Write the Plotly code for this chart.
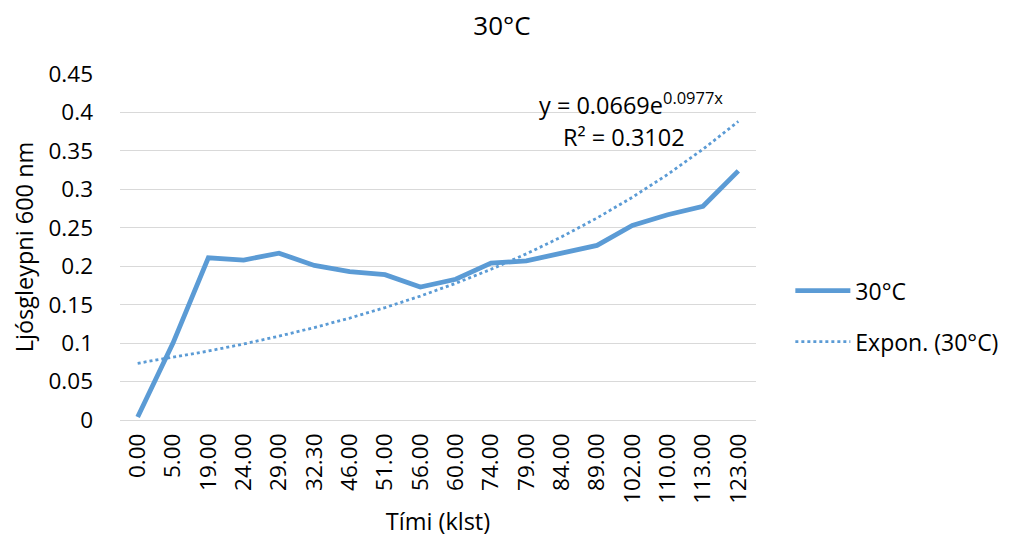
import plotly.graph_objects as go
import numpy as np

categories = ["0.00", "5.00", "19.00", "24.00", "29.00", "32.30", "46.00", "51.00", "56.00",
              "60.00", "74.00", "79.00", "84.00", "89.00", "102.00", "110.00", "113.00", "123.00"]
absorbance = [0.004, 0.100, 0.211, 0.208, 0.217, 0.201, 0.193, 0.189, 0.173,
              0.183, 0.204, 0.207, 0.217, 0.227, 0.253, 0.267, 0.278, 0.324]
# Excel exponential trendline coefficients (shown on chart): y = a * exp(b * x), x = 1..N
trend_a = 0.0669
trend_b = 0.0977

idx = np.arange(1, len(categories) + 1)
trend = trend_a * np.exp(trend_b * idx)

color = "#5B9BD5"
font = "Open Sans"

fig = go.Figure()
fig.add_trace(go.Scatter(x=categories, y=absorbance, mode="lines", name="30°C",
                         legendgroup="a",
                         line=dict(color=color, width=4.8)))
fig.add_trace(go.Scatter(x=categories, y=trend, mode="lines", name="Expon. (30°C)",
                         legendgroup="b",
                         line=dict(color=color, width=2.8, dash="dot")))

fig.update_layout(
    width=1008, height=547,
    margin=dict(l=112, r=257, t=66, b=135),
    paper_bgcolor="white", plot_bgcolor="white",
    font=dict(family=font, size=22.5, color="#000000"),
    title=dict(text="30°C", x=0.490, xanchor="center", y=0.968, yanchor="middle",
               font=dict(size=26, family=font)),
    showlegend=True,
    legend=dict(x=1.054, y=0.30, xanchor="left", yanchor="middle",
                font=dict(size=23, family=font), tracegroupgap=18, itemwidth=55,
                bgcolor="rgba(0,0,0,0)"),
    xaxis=dict(type="category", range=[-0.5, 17.5], tickangle=-90,
               showgrid=False, showline=False, ticks="", ticklabelstandoff=8,
               tickfont=dict(size=22.5, family=font),
               title=dict(text="Tími (klst)", font=dict(size=23.5, family=font), standoff=10)),
    yaxis=dict(range=[0, 0.45], dtick=0.05, tickformat="~g",
               showgrid=True, gridcolor="#D9D9D9", gridwidth=1,
               zeroline=True, zerolinecolor="#D9D9D9", zerolinewidth=1,
               showline=False, ticks="", ticklabelstandoff=26,
               tickfont=dict(size=22.5, family=font),
               title=dict(text="Ljósgleypni 600 nm", font=dict(size=23.5, family=font), standoff=8)),
    annotations=[
        dict(text="y = 0.0669e<sup>0.0977x</sup>", xref="paper", yref="paper",
             x=0.803, y=0.916, xanchor="center", yanchor="middle", showarrow=False,
             font=dict(size=23.5, family=font)),
        dict(text="R² = 0.3102", xref="paper", yref="paper",
             x=0.793, y=0.818, xanchor="center", yanchor="middle", showarrow=False,
             font=dict(size=23.5, family=font)),
    ],
)

fig.write_html("out.html")
